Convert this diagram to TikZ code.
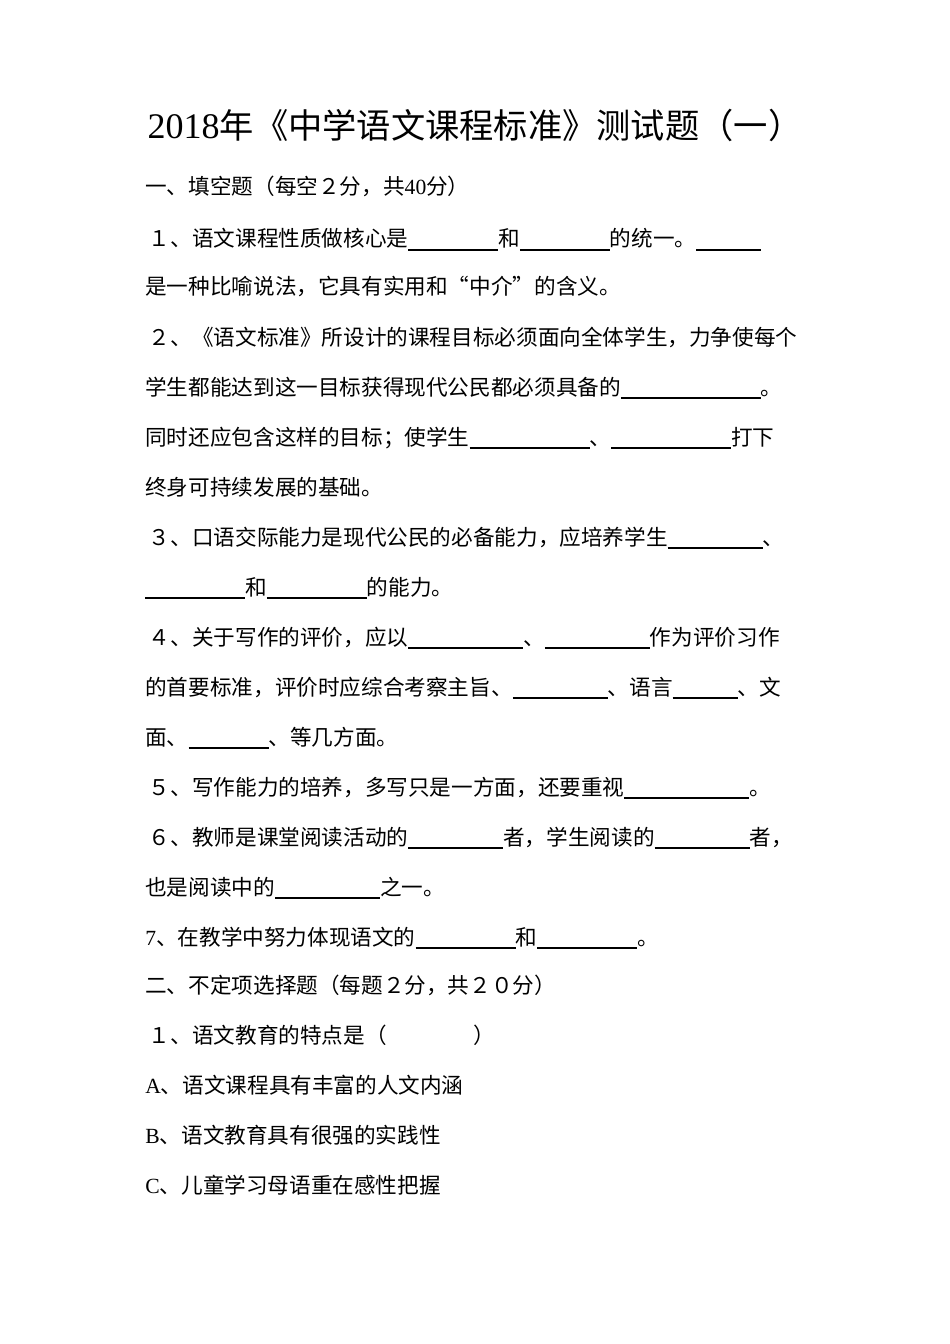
\documentclass[tikz,border=0pt]{standalone}
\usepackage{fontspec}
\setmainfont{Liberation Serif}
\newfontfamily\cjk{Noto Sans CJK SC}
\newcommand{\blk}[1]{\rule[-2pt]{#1}{0.6pt}}
\tikzset{line/.style={anchor=base west, inner sep=0pt, font=\fontsize{12.3}{12.3}\cjk},
         title/.style={anchor=base, inner sep=0pt, font=\fontsize{19.5}{19.5}\cjk}}
\begin{document}
\begin{tikzpicture}
\useasboundingbox[fill=white] (0,0) rectangle (19,-26.88);
\node[title] (title) at (9.5,-2.78) {{\rmfamily\fontsize{20.5}{20.5}\selectfont 2018}年《中学语文课程标准》测试题（一）};
\node[line] (s1) at (2.9,-3.9) {一、填空题（每空２分，共{\rmfamily 40}分）};
\node[line] (q1a) at (2.9,-4.94) {\,１、语文课程性质做核心是\blk{1.8cm}和\blk{1.8cm}的统一。\blk{1.3cm}};
\node[line] (q1b) at (2.9,-5.9) {是一种比喻说法，它具有实用和“中介”的含义。};
\node[line] (q2a) at (2.9,-6.9) {\,２、《语文标准》所设计的课程目标必须面向全体学生，力争使每个};
\node[line] (q2b) at (2.9,-7.9) {学生都能达到这一目标获得现代公民都必须具备的\blk{2.8cm}。};
\node[line] (q2c) at (2.9,-8.9) {同时还应包含这样的目标；使学生\blk{2.4cm}、\blk{2.4cm}打下};
\node[line] (q2d) at (2.9,-9.9) {终身可持续发展的基础。};
\node[line] (q3a) at (2.9,-10.9) {\,３、口语交际能力是现代公民的必备能力，应培养学生\blk{1.9cm}、};
\node[line] (q3b) at (2.9,-11.9) {\blk{2cm}和\blk{2cm}的能力。};
\node[line] (q4a) at (2.9,-12.9) {\,４、关于写作的评价，应以\blk{2.3cm}、\blk{2.1cm}作为评价习作};
\node[line] (q4b) at (2.9,-13.9) {的首要标准，评价时应综合考察主旨、\blk{1.9cm}、语言\blk{1.3cm}、文};
\node[line] (q4c) at (2.9,-14.9) {面、\blk{1.6cm}、等几方面。};
\node[line] (q5) at (2.9,-15.9) {\,５、写作能力的培养，多写只是一方面，还要重视\blk{2.5cm}。};
\node[line] (q6a) at (2.9,-16.9) {\,６、教师是课堂阅读活动的\blk{1.9cm}者，学生阅读的\blk{1.9cm}者，};
\node[line] (q6b) at (2.9,-17.9) {也是阅读中的\blk{2.1cm}之一。};
\node[line] (q7) at (2.9,-18.9) {{\rmfamily 7}、在教学中努力体现语文的\blk{2cm}和\blk{2cm}。};
\node[line] (s2) at (2.9,-19.86) {二、不定项选择题（每题２分，共２０分）};
\node[line] (c1) at (2.9,-20.86) {\,１、语文教育的特点是（　　　　）};
\node[line] (ca) at (2.9,-21.86) {{\rmfamily A}、语文课程具有丰富的人文内涵};
\node[line] (cb) at (2.9,-22.86) {{\rmfamily B}、语文教育具有很强的实践性};
\node[line] (cc) at (2.9,-23.86) {{\rmfamily C}、儿童学习母语重在感性把握};
\end{tikzpicture}
\end{document}
